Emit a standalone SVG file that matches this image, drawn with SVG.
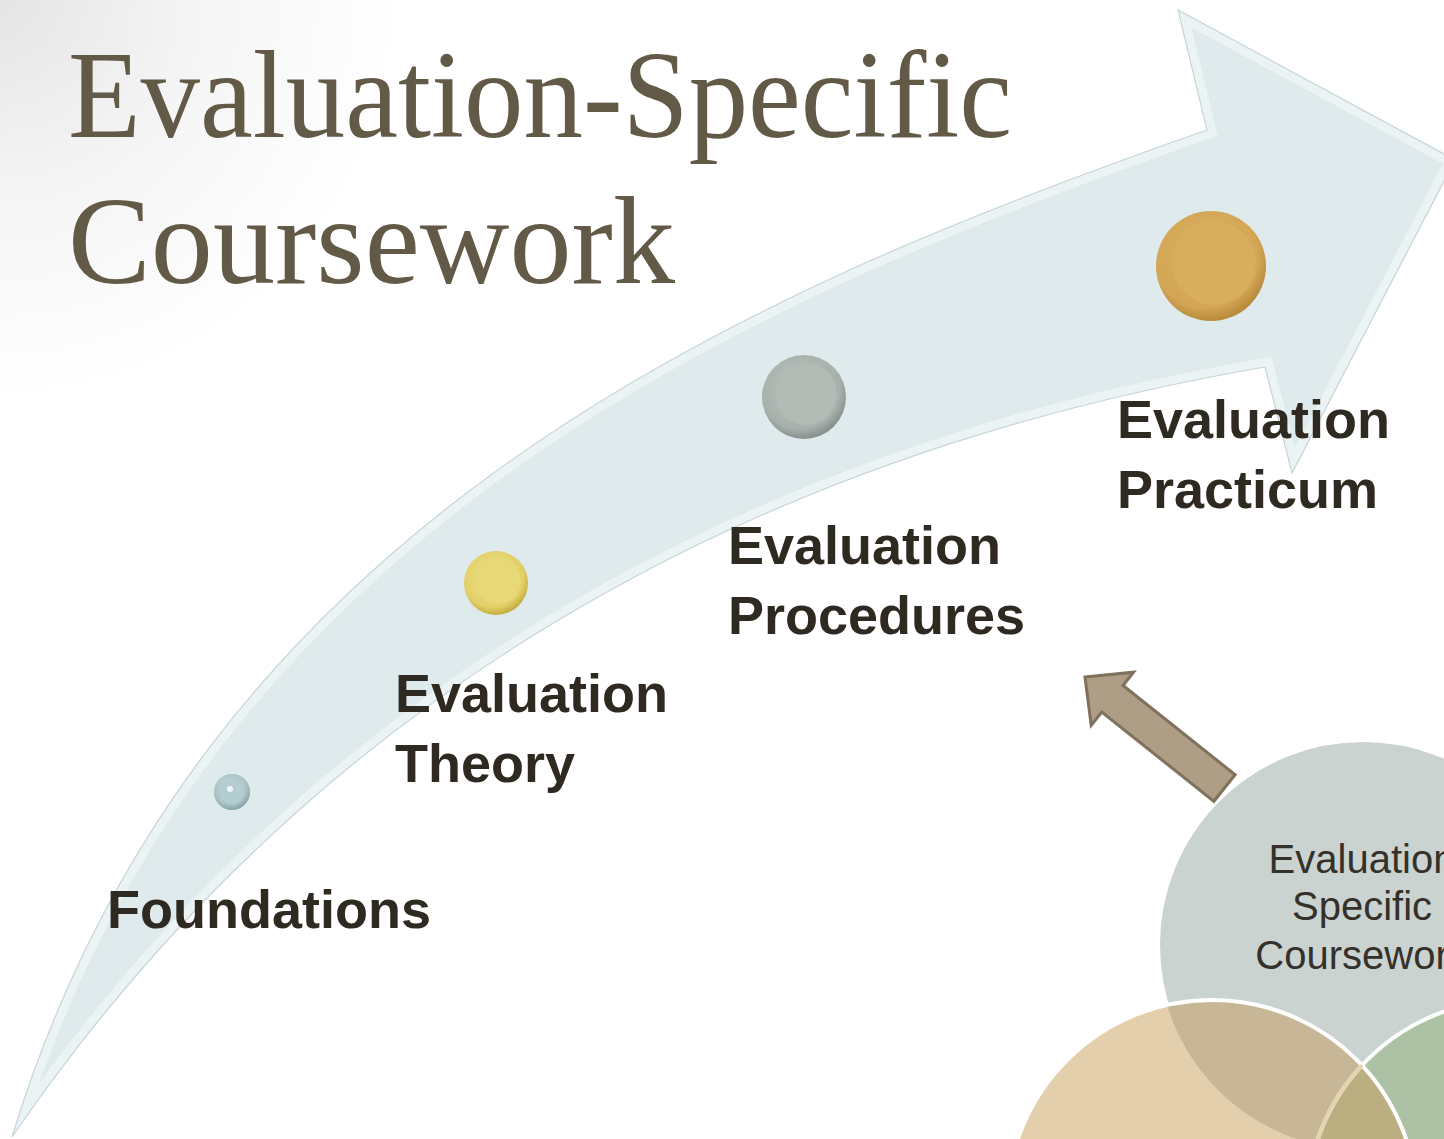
<svg xmlns="http://www.w3.org/2000/svg" width="1444" height="1139" viewBox="0 0 1444 1139">
  <defs>
    <style>
      .title { font-family: "Liberation Serif", "DejaVu Serif", serif; font-size: 124px; fill: #625a46; }
      .lbl { font-family: "Liberation Sans", Arial, sans-serif; font-weight: bold; font-size: 54px; fill: #2e2a21; }
      .venn { font-family: "Liberation Sans", Arial, sans-serif; font-size: 40px; fill: #34302a; text-anchor: middle; }
      .arrowbody { fill: #dfeaed; }
    </style>
    <radialGradient id="bg" cx="0" cy="0" r="400" gradientUnits="userSpaceOnUse">
      <stop offset="0" stop-color="#e5e5e5"/>
      <stop offset="0.5" stop-color="#f5f5f5"/>
      <stop offset="1" stop-color="#ffffff"/>
    </radialGradient>
    <path id="bigArrow" d="M12,1137 C200,520 750,290 1207,130 L1178,10 L1455,160 L1292,473 L1265,367 C900,430 380,600 12,1137 Z"/>
    <clipPath id="arrowClip"><use href="#bigArrow"/></clipPath>
    <radialGradient id="gGold" cx="0.45" cy="0.4" r="0.6">
      <stop offset="0" stop-color="#ddb366"/>
      <stop offset="0.8" stop-color="#d3a555"/>
      <stop offset="1" stop-color="#b88a3c"/>
    </radialGradient>
    <radialGradient id="gGray" cx="0.45" cy="0.4" r="0.6">
      <stop offset="0" stop-color="#bcc4c0"/>
      <stop offset="0.8" stop-color="#a8b0ac"/>
      <stop offset="1" stop-color="#87908c"/>
    </radialGradient>
    <radialGradient id="gYellow" cx="0.45" cy="0.4" r="0.6">
      <stop offset="0" stop-color="#efe08a"/>
      <stop offset="0.8" stop-color="#e2cf66"/>
      <stop offset="1" stop-color="#c4ae40"/>
    </radialGradient>
    <radialGradient id="gTeal" cx="0.45" cy="0.4" r="0.6">
      <stop offset="0" stop-color="#c9dcde"/>
      <stop offset="0.75" stop-color="#a9c3c6"/>
      <stop offset="1" stop-color="#86a3a7"/>
    </radialGradient>
    <clipPath id="clipGray"><circle cx="1363" cy="945" r="205"/></clipPath>
    <clipPath id="clipTan"><circle cx="1212" cy="1205" r="205"/></clipPath>
  </defs>

  <rect id="background" x="0" y="0" width="1444" height="1139" fill="url(#bg)"/>

  <g id="title">
    <text class="title" x="68" y="137" textLength="944" lengthAdjust="spacingAndGlyphs">Evaluation-Specific</text>
    <text class="title" x="68" y="283" textLength="607" lengthAdjust="spacingAndGlyphs">Coursework</text>
  </g>

  <g id="progress-arrow">
    <use href="#bigArrow" class="arrowbody"/>
    <g clip-path="url(#arrowClip)">
      <use href="#bigArrow" fill="none" stroke="#ebf3f5" stroke-width="18"/>
    </g>
    <use href="#bigArrow" fill="none" stroke="#c6d4d8" stroke-width="1.2"/>
  </g>

  <g id="dot-foundations">
    <circle cx="232" cy="792" r="18" fill="url(#gTeal)"/>
    <circle cx="232" cy="792" r="12" fill="#b4cdd0"/>
    <circle cx="230" cy="789" r="3" fill="#eef6f7"/>
  </g>
  <g id="dot-theory">
    <circle cx="496" cy="583" r="32" fill="url(#gYellow)"/>
    <circle cx="498" cy="581" r="23" fill="#e8d878"/>
  </g>
  <g id="dot-procedures">
    <circle cx="804" cy="397" r="42" fill="url(#gGray)"/>
    <circle cx="806" cy="394" r="31" fill="#b3bbb7"/>
  </g>
  <g id="dot-practicum">
    <circle cx="1211" cy="266" r="55" fill="url(#gGold)"/>
    <circle cx="1214" cy="263" r="42" fill="#d9ad5e"/>
  </g>

  <g id="node-foundations">
    <text class="lbl" x="107" y="928">Foundations</text>
  </g>
  <g id="node-theory">
    <text class="lbl" x="395" y="712">Evaluation</text>
    <text class="lbl" x="395" y="782">Theory</text>
  </g>
  <g id="node-procedures">
    <text class="lbl" x="728" y="564">Evaluation</text>
    <text class="lbl" x="728" y="634">Procedures</text>
  </g>
  <g id="node-practicum">
    <text class="lbl" x="1117" y="438">Evaluation</text>
    <text class="lbl" x="1117" y="508">Practicum</text>
  </g>

  <g id="venn">
    <circle cx="1363" cy="945" r="205" fill="#cbd3d1" stroke="#ffffff" stroke-width="4"/>
    <circle cx="1212" cy="1205" r="205" fill="#e3cfac"/>
    <circle cx="1512" cy="1205" r="205" fill="#adc1a4"/>
    <g clip-path="url(#clipGray)">
      <circle cx="1212" cy="1205" r="205" fill="#c8b796"/>
    </g>
    <g clip-path="url(#clipTan)">
      <circle cx="1512" cy="1205" r="205" fill="#bbae80"/>
    </g>
    <circle cx="1212" cy="1205" r="205" fill="none" stroke="#ffffff" stroke-width="4"/>
    <circle cx="1512" cy="1205" r="205" fill="none" stroke="#ffffff" stroke-width="4"/>
    <g clip-path="url(#clipTan)">
      <circle cx="1512" cy="1205" r="205" fill="none" stroke="#e6d3b0" stroke-width="4"/>
    </g>
    <g id="node-venn-label">
      <text class="venn" x="1362" y="873">Evaluation</text>
      <text class="venn" x="1362" y="920">Specific</text>
      <text class="venn" x="1362" y="969">Coursework</text>
    </g>
  </g>

  <g id="connectors">
    <polygon points="1085,677 1133.6,672.2 1123,685.5 1235.1,774.7 1213.9,801.3 1101.8,712.1 1091.2,725.4" fill="#ae9e85" stroke="#7f715d" stroke-width="3" stroke-linejoin="miter"/>
  </g>
</svg>
